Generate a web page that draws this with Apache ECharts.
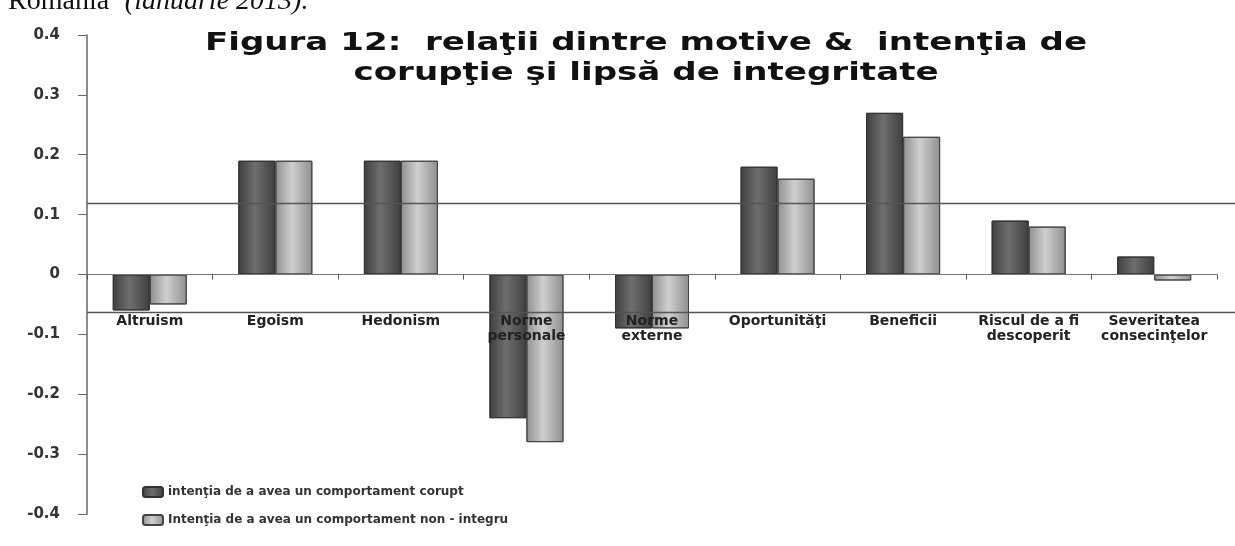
<!DOCTYPE html>
<html>
<head>
<meta charset="utf-8">
<script src="https://cdn.jsdelivr.net/npm/echarts@6/dist/echarts.min.js"></script>
<style>
html,body{margin:0;padding:0;background:#fff;}
#chart{width:1235px;height:546px;}
</style>
</head>
<body>
<div id="chart"></div>
<script>
const categories = ['Altruism','Egoism','Hedonism','Norme\npersonale','Norme\nexterne','Oportunităţi','Beneficii','Riscul de a fi\ndescoperit','Severitatea\nconsecinţelor'];
const seriesNames = ['intenţia de a avea un comportament corupt','Intenţia de a avea un comportament non - integru'];
const corupt = [-0.06, 0.19, 0.19, -0.24, -0.09, 0.18, 0.27, 0.09, 0.03];
const nonIntegru = [-0.05, 0.19, 0.19, -0.28, -0.09, 0.16, 0.23, 0.08, -0.01];
const yTicks = {min: -0.4, max: 0.4, interval: 0.1};
const refLines = [0.12, -0.063];
const titleLines = ['Figura 12:  relaţii dintre motive &  intenţia de', 'corupţie şi lipsă de integritate'];
const captionParts = ['România”', '(ianuarie 2013).'];

const W = 1235, H = 546;
const gridBox = {left: 87, right: 18, top: 35, bottom: 32};
const gridH = H - gridBox.top - gridBox.bottom;
// put the category axis (line + labels) at value 0
const zeroOffset = -gridH * (0 - yTicks.min) / (yTicks.max - yTicks.min);

const chart = echarts.init(document.getElementById('chart'), null, {renderer: 'canvas'});
const FONT = 'DejaVu Sans';

function grad(edge, mid) {
  return new echarts.graphic.LinearGradient(0, 0, 1, 0, [
    {offset: 0, color: edge},
    {offset: 0.45, color: mid},
    {offset: 1, color: edge}
  ]);
}

const option = {
  backgroundColor: '#ffffff',
  animation: false,
  legend: {
    orient: 'vertical',
    left: 137,
    top: 481,
    itemWidth: 20,
    itemHeight: 10,
    itemGap: 16,
    textStyle: {fontFamily: FONT, fontWeight: 'bold', fontSize: 12, color: '#333'},
    data: seriesNames
  },
  grid: Object.assign({containLabel: false}, gridBox),
  xAxis: {
    type: 'category',
    data: categories,
    z: 10,
    position: 'bottom',
    offset: zeroOffset,
    axisLine: {onZero: false, lineStyle: {color: '#777', width: 1.2}},
    axisTick: {show: true, length: 5, inside: false, lineStyle: {color: '#555'}},
    axisLabel: {margin: 39, interval: 0, fontFamily: FONT, fontWeight: 'bold', fontSize: 14, color: '#222', lineHeight: 15}
  },
  yAxis: {
    type: 'value',
    min: yTicks.min, max: yTicks.max, interval: yTicks.interval,
    splitLine: {show: false},
    axisLine: {show: true, lineStyle: {color: '#666', width: 1.5}},
    axisTick: {show: true, length: 9, lineStyle: {color: '#666'}},
    axisLabel: {margin: 27, fontFamily: FONT, fontWeight: 'bold', fontSize: 15, color: '#333',
      formatter: v => (Math.round(v * 10) / 10).toString()}
  },
  series: [
    {
      name: seriesNames[0], type: 'bar', data: corupt, barWidth: 37, barGap: '0%',
      itemStyle: {color: grad('#3f3f3f', '#6e6e6e'), borderColor: '#333', borderWidth: 1}
    },
    {
      name: seriesNames[1], type: 'bar', data: nonIntegru, barWidth: 37,
      itemStyle: {color: grad('#8f8f8f', '#cfcfcf'), borderColor: '#444', borderWidth: 1}
    }
  ]
};
chart.setOption(option);

// reference lines (span from the y axis to the right edge), title and clipped caption above the figure
const c0 = chart.convertToPixel({xAxisIndex: 0}, 0);
const c1 = chart.convertToPixel({xAxisIndex: 0}, 1);
const x0 = c0 - (c1 - c0) / 2;
const elements = refLines.map(v => {
  const y = Math.round(chart.convertToPixel({yAxisIndex: 0}, v)) + 0.5;
  return {type: 'line', z: 100, shape: {x1: x0, y1: y, x2: W, y2: y}, style: {stroke: '#555', lineWidth: 1.5}};
});
elements.push({
  type: 'text', x: 646, y: 29, scaleX: 1.42, z: 100,
  style: {
    text: titleLines.join('\n'), align: 'center', verticalAlign: 'top',
    fontFamily: FONT, fontWeight: 'bold', fontSize: 24, lineHeight: 30, fill: '#111'
  }
});
elements.push({
  type: 'text', left: 8, top: -12, z: 100,
  style: {
    text: '{a|' + captionParts[0] + '} {b|' + captionParts[1] + '}',
    rich: {
      a: {fontFamily: 'Liberation Serif', fontSize: 28, fill: '#111'},
      b: {fontFamily: 'Liberation Serif', fontStyle: 'italic', fontSize: 28, fill: '#111'}
    }
  }
});
chart.setOption({graphic: {elements: elements}});
</script>
</body>
</html>
